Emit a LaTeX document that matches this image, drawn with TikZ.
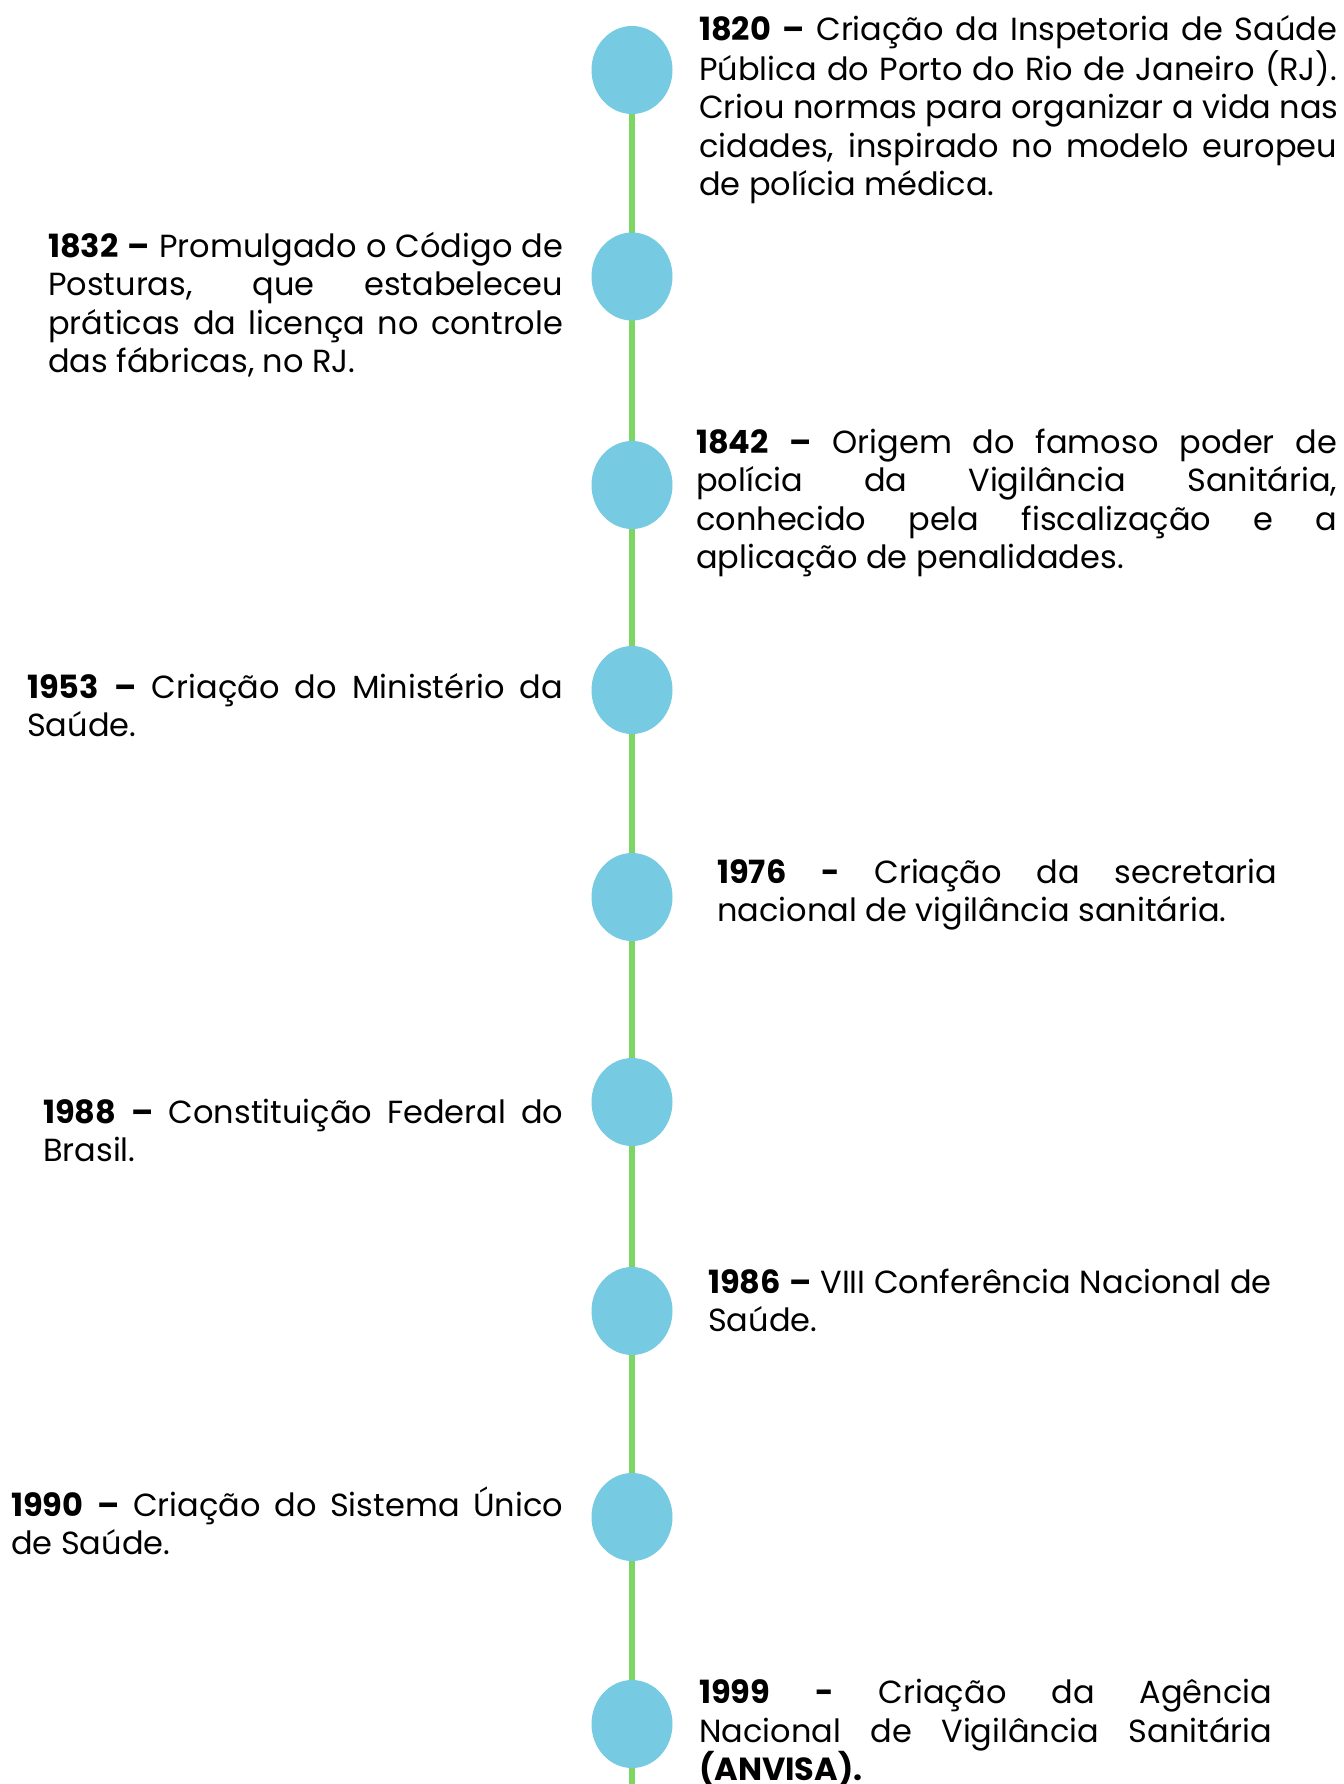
\documentclass[tikz,border=0pt]{standalone}
\usepackage{fontspec}
\setmainfont{Poppins}
\usetikzlibrary{shapes.geometric,backgrounds}
\definecolor{dotblue}{HTML}{76CBE2}
\definecolor{linegreen}{HTML}{7DD664}
\newcommand\tallstrut{\rule[-9pt]{0pt}{38.5pt}}
\newcommand\JLine[2]{\leavevmode\hbox to #1pt{\spaceskip=\fontdimen2\font plus 1fil\xspaceskip=\spaceskip\relax\tallstrut #2}}
\newcommand\LLine[1]{\leavevmode\hbox{\spaceskip=\fontdimen2\font\xspaceskip=\spaceskip\relax\tallstrut #1}}
\begin{document}
\begin{tikzpicture}[x=1pt,y=-1pt,
  dot/.style={ellipse, fill=dotblue, minimum width=81pt, minimum height=88pt, inner sep=0pt},
  txt/.style={anchor=north west, inner sep=0pt, align=left,
    font=\fontsize{32}{38.5}\selectfont},
  stem/.style={draw=linegreen, line width=6pt}]
\useasboundingbox (0,0) rectangle (1343,1784);

\node[dot] (c1) at (632,70) {};
\node[dot] (c2) at (632,276.5) {};
\node[dot] (c3) at (632,485) {};
\node[dot] (c4) at (632,690) {};
\node[dot] (c5) at (632,897) {};
\node[dot] (c6) at (632,1102) {};
\node[dot] (c7) at (632,1311) {};
\node[dot] (c8) at (632,1517) {};
\node[dot] (c9) at (632,1724) {};
\coordinate (bottom) at (632,1784);
\begin{pgfonlayer}{background}
\fill[white] (0,0) rectangle (1343,1784);
\draw[stem] (c1.center) -- (bottom);
\end{pgfonlayer}

% top = baseline - 29.5
\node[txt, text width=638pt] (t1820) at (699,10.5) {%
\JLine{638}{\textbf{1820 –} Criação da Inspetoria de Saúde}\\
\JLine{638}{Pública do Porto do Rio de Janeiro (RJ).}\\
\JLine{638}{Criou normas para organizar a vida nas}\\
\JLine{638}{cidades, inspirado no modelo europeu}\\
\LLine{de polícia médica.}};

\node[txt, text width=515pt] (t1832) at (48,227.5) {%
\JLine{515}{\textbf{1832 –} Promulgado o Código de}\\
\JLine{515}{Posturas, que estabeleceu}\\
\JLine{515}{práticas da licença no controle}\\
\LLine{das fábricas, no RJ.}};

\node[txt, text width=641pt] (t1842) at (696,423.5) {%
\JLine{641}{\textbf{1842 –} Origem do famoso poder de}\\
\JLine{641}{polícia da Vigilância Sanitária,}\\
\JLine{641}{conhecido pela fiscalização e a}\\
\LLine{aplicação de penalidades.}};

\node[txt, text width=536pt] (t1953) at (27,668.5) {%
\JLine{536}{\textbf{1953 –} Criação do Ministério da}\\
\LLine{Saúde.}};

\node[txt, text width=560pt] (t1976) at (717,853.5) {%
\JLine{560}{\textbf{1976 -} Criação da secretaria}\\
\LLine{nacional de vigilância sanitária.}};

\node[txt, text width=520pt] (t1988) at (43,1093.5) {%
\JLine{520}{\textbf{1988 –} Constituição Federal do}\\
\LLine{Brasil.}};

\node[txt, text width=564pt] (t1986) at (708,1263.5) {%
\LLine{\textbf{1986 –} VIII Conferência Nacional de}\\
\LLine{Saúde.}};

\node[txt, text width=552pt] (t1990) at (11,1486.5) {%
\JLine{552}{\textbf{1990 –} Criação do Sistema Único}\\
\LLine{de Saúde.}};

\node[txt, text width=573pt] (t1999) at (699,1674) {%
\JLine{573}{\textbf{1999 -} Criação da Agência}\\
\JLine{573}{Nacional de Vigilância Sanitária}\\
\LLine{\textbf{(ANVISA).}}};
\end{tikzpicture}
\end{document}
